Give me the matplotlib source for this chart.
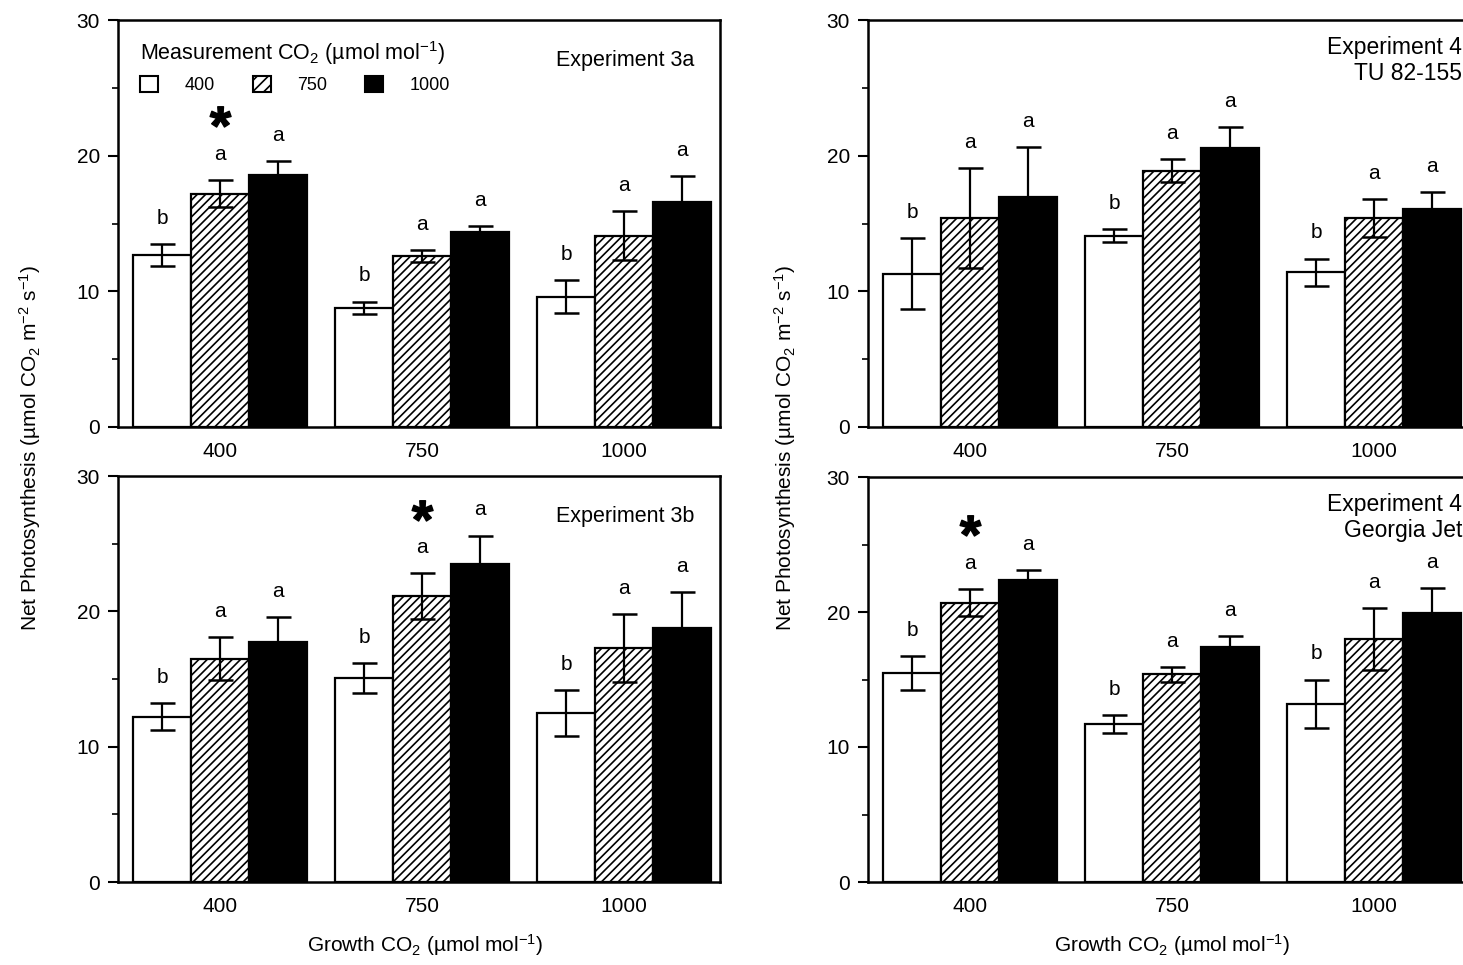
import matplotlib
matplotlib.use("Agg")
import matplotlib.pyplot as plt
from matplotlib.patches import Patch
from matplotlib.textpath import TextPath
from matplotlib.font_manager import FontProperties
from matplotlib.path import Path
import numpy as np

plt.rcParams['font.family'] = ['Liberation Sans', 'DejaVu Sans']
plt.rcParams['mathtext.default'] = 'regular'
plt.rcParams['hatch.linewidth'] = 1.2

# ---------------- data ----------------
growth_labels = ['400', '750', '1000']
meas_labels = ['400', '750', '1000']

exp3a_400 = [12.7, 8.8, 9.6]
exp3a_400_err = [0.8, 0.45, 1.2]
exp3a_750 = [17.2, 12.6, 14.1]
exp3a_750_err = [1.0, 0.45, 1.8]
exp3a_1000 = [18.6, 14.4, 16.6]
exp3a_1000_err = [1.0, 0.4, 1.9]

exp3b_400 = [12.2, 15.1, 12.5]
exp3b_400_err = [1.0, 1.1, 1.7]
exp3b_750 = [16.5, 21.1, 17.3]
exp3b_750_err = [1.6, 1.7, 2.5]
exp3b_1000 = [17.7, 23.5, 18.8]
exp3b_1000_err = [1.9, 2.1, 2.6]

tu_400 = [11.3, 14.1, 11.4]
tu_400_err = [2.6, 0.5, 1.0]
tu_750 = [15.4, 18.9, 15.4]
tu_750_err = [3.7, 0.85, 1.4]
tu_1000 = [16.95, 20.6, 16.1]
tu_1000_err = [3.7, 1.5, 1.2]

gj_400 = [15.5, 11.7, 13.2]
gj_400_err = [1.25, 0.65, 1.8]
gj_750 = [20.7, 15.4, 18.0]
gj_750_err = [1.0, 0.55, 2.3]
gj_1000 = [22.4, 17.4, 19.9]
gj_1000_err = [0.7, 0.8, 1.9]

letters = ['b', 'a', 'a']
star_3a = (0, 1)
star_3b = (1, 1)
star_gj = (0, 1)

yticks = [0, 10, 20, 30]
yminor = [5, 15, 25]

# ---------------- figure ----------------
W, H = 1463, 965
fig = plt.figure(figsize=(W / 100, H / 100), dpi=100)

def frac(left, top, right, bottom):
    return [left / W, 1 - bottom / H, (right - left) / W, (bottom - top) / H]

ax_tl = fig.add_axes(frac(118, 20, 720, 427))
ax_bl = fig.add_axes(frac(118, 476, 720, 882))
ax_tr = fig.add_axes(frac(868, 20, 1470, 427))
ax_br = fig.add_axes(frac(868, 477, 1470, 882))

# centred bold asterisk marker
_tp = TextPath((0, 0), '*', prop=FontProperties(family='Liberation Sans', weight='bold'), size=1)
_v = _tp.vertices
_c = (_v.min(0) + _v.max(0)) / 2
star_marker = Path(_v - _c, _tp.codes)

bw = 0.287
styles = [dict(color='white', hatch=None),
          dict(color='white', hatch='////'),
          dict(color='black', hatch=None)]


def panel(ax, series, errs, title, star=None, tx=0.958, tfs=15.5):
    x = np.arange(len(growth_labels))
    for i, (vals, err) in enumerate(zip(series, errs)):
        pos = x + (i - 1) * bw
        st = styles[i]
        ax.bar(pos, vals, width=bw, color=st['color'], edgecolor='black',
               linewidth=1.6, hatch=st['hatch'], zorder=2)
        ax.errorbar(pos, vals, yerr=err, fmt='none', ecolor='black',
                    elinewidth=1.6, capsize=9, capthick=1.8, zorder=3)
        for j in range(len(vals)):
            ytxt = vals[j] + err[j] + 1.9
            ax.text(pos[j], ytxt, letters[i], ha='center', va='center',
                    fontsize=15, zorder=4)
            if star is not None and star == (j, i):
                ax.plot([pos[j]], [ytxt + 2.15], marker=star_marker, ms=27,
                        color='black', ls='none', zorder=4)
    ax.set_xlim(-0.505, 2.475)
    ax.set_ylim(0, 30)
    ax.set_yticks(yticks)
    ax.set_yticks(yminor, minor=True)
    ax.set_yticklabels([str(t) for t in yticks], fontsize=15)
    ax.set_xticks(x)
    ax.set_xticklabels(growth_labels, fontsize=15)
    ax.tick_params(axis='x', length=0, pad=11)
    ax.tick_params(axis='y', which='major', direction='out', length=7,
                   width=1.5, pad=6)
    ax.tick_params(axis='y', which='minor', direction='out', length=4,
                   width=1.2)
    for s in ax.spines.values():
        s.set_linewidth(1.8)
    ax.text(tx, 0.90, title, transform=ax.transAxes, ha='right', va='center',
            fontsize=tfs, multialignment='right', linespacing=1.2)


panel(ax_tl, [exp3a_400, exp3a_750, exp3a_1000],
      [exp3a_400_err, exp3a_750_err, exp3a_1000_err], 'Experiment 3a', star_3a)
panel(ax_bl, [exp3b_400, exp3b_750, exp3b_1000],
      [exp3b_400_err, exp3b_750_err, exp3b_1000_err], 'Experiment 3b', star_3b)
panel(ax_tr, [tu_400, tu_750, tu_1000],
      [tu_400_err, tu_750_err, tu_1000_err], 'Experiment 4\nTU 82-155',
      tx=0.987, tfs=16.5)
panel(ax_br, [gj_400, gj_750, gj_1000],
      [gj_400_err, gj_750_err, gj_1000_err], 'Experiment 4\nGeorgia Jet', star_gj,
      tx=0.987, tfs=16.5)

# legend
handles = [Patch(facecolor='white', edgecolor='black', linewidth=1.5),
           Patch(facecolor='white', edgecolor='black', linewidth=1.5, hatch='///'),
           Patch(facecolor='black', edgecolor='black', linewidth=1.5)]
leg = ax_tl.legend(handles, meas_labels, ncol=3, frameon=False,
                   loc='upper left', bbox_to_anchor=(0.015, 0.985),
                   title='Measurement CO$_2$ (µmol mol$^{-1}$)',
                   title_fontsize=15.5, fontsize=13, alignment='left',
                   handlelength=1.0, handleheight=1.0, handletextpad=1.48,
                   columnspacing=2.1, borderpad=0.2)

ylab = 'Net Photosynthesis (µmol CO$_2$ m$^{-2}$ s$^{-1}$)'
fig.text(30 / W, 1 - 448 / H, ylab, rotation=90, ha='center', va='center', fontsize=15)
fig.text(785 / W, 1 - 448 / H, ylab, rotation=90, ha='center', va='center', fontsize=15)
xlab = 'Growth CO$_2$ (µmol mol$^{-1}$)'
fig.text(425 / W, 1 - 945 / H, xlab, ha='center', va='center', fontsize=15)
fig.text(1172 / W, 1 - 945 / H, xlab, ha='center', va='center', fontsize=15)

fig.savefig('out.png', dpi=100)
